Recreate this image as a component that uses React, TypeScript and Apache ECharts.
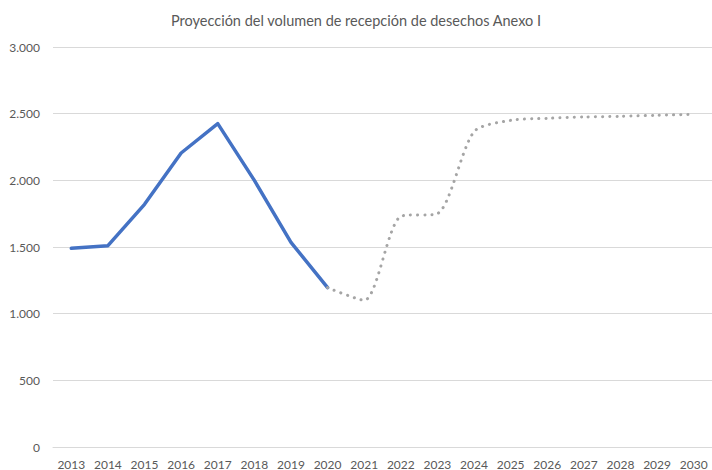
import React, { useEffect, useRef } from "react";
import * as echarts from "echarts";

const years = ["2013","2014","2015","2016","2017","2018","2019","2020","2021","2022","2023","2024","2025","2026","2027","2028","2029","2030"];
const actual = [1490, 1510, 1820, 2205, 2425, 2000, 1535, 1195, null, null, null, null, null, null, null, null, null, null];
const projection = [null, null, null, null, null, null, null, 1195, 1100, 1730, 1750, 2365, 2450, 2465, 2475, 2480, 2488, 2495];
const title = "Proyección del volumen de recepción de desechos Anexo I";

const fmt = (v: number) => v.toLocaleString("de-DE");

export default function App() {
  const ref = useRef<HTMLDivElement>(null);
  useEffect(() => {
    const chart = echarts.init(ref.current!, null, { renderer: "svg" });
    const font = "Lato";
    chart.setOption({
      animation: false,
      backgroundColor: "#ffffff",
      title: {
        text: title,
        left: "center",
        top: 8,
        textStyle: { fontFamily: font, fontSize: 14.5, fontWeight: "normal", color: "#595959" },
      },
      grid: { left: 53, right: -6, top: 47, bottom: 23, containLabel: false },
      xAxis: {
        type: "category",
        data: years,
        boundaryGap: true,
        axisLine: { lineStyle: { color: "#D9D9D9" } },
        axisTick: { show: false },
        axisLabel: { color: "#595959", fontFamily: font, fontSize: 12, margin: 11, interval: 0 },
      },
      yAxis: {
        type: "value",
        min: 0,
        max: 3000,
        interval: 500,
        axisLine: { show: false },
        axisTick: { show: false },
        splitLine: { lineStyle: { color: "#D9D9D9" } },
        axisLabel: { color: "#595959", fontFamily: font, fontSize: 12, margin: 13, formatter: fmt },
      },
      series: [
        {
          type: "line",
          data: actual,
          symbol: "none",
          lineStyle: { color: "#4472C4", width: 3.5, cap: "round", join: "round" },
          itemStyle: { color: "#4472C4" },
        },
        {
          type: "line",
          data: projection,
          symbol: "none",
          smooth: 0.25,
          lineStyle: { color: "#A5A5A5", width: 3, type: [0.1, 7], cap: "round" },
          itemStyle: { color: "#A5A5A5" },
        },
      ],
    });
    return () => chart.dispose();
  }, []);
  return <div ref={ref} style={{ width: 712, height: 470, position: "absolute", left: 0, top: 0 }} />;
}
